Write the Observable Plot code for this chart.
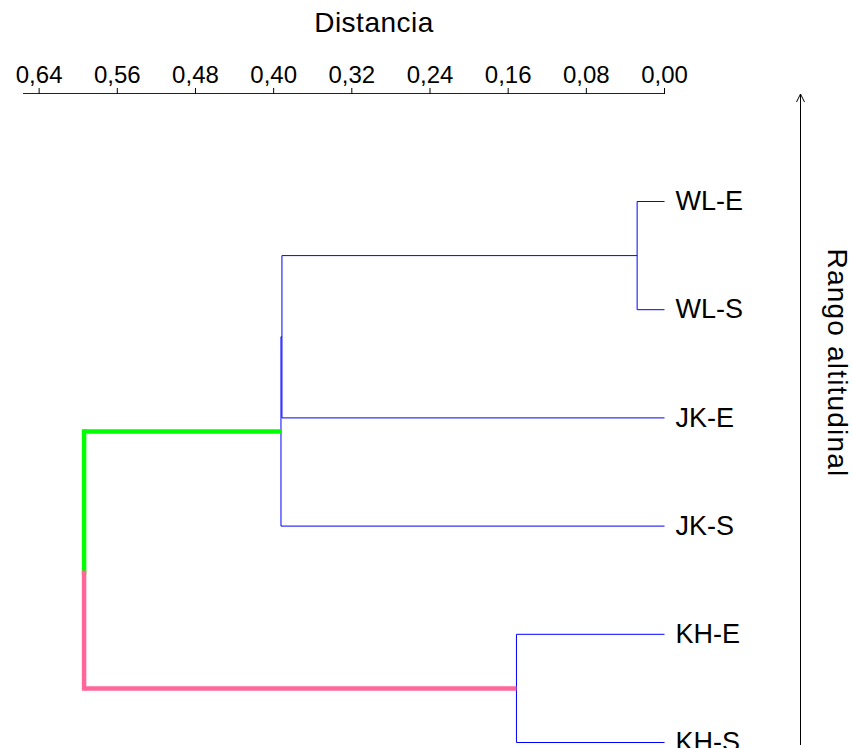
<!DOCTYPE html>
<html>
<head>
<meta charset="utf-8">
<script src="https://cdn.jsdelivr.net/npm/d3@7"></script>
<script src="https://cdn.jsdelivr.net/npm/@observablehq/plot@0.6"></script>
<style>
  body { margin: 0; background: #fff; }
  #chart svg { display: block; }
</style>
</head>
<body>
<div id="chart"></div>
<script>
// Leaves of the dendrogram, listed top to bottom
const leaves = ["WL-E", "WL-S", "JK-E", "JK-S", "KH-E", "KH-S"];

// Agglomeration steps: the two clusters joined and the distance of the join
const joinLeft = ["WL-E", "WL", "WL+JK-E", "KH-E", "WL+JK"];
const joinRight = ["WL-S", "JK-E", "JK-S", "KH-S", "KH"];
const joinName = ["WL", "WL+JK-E", "WL+JK", "KH", "raíz"];
const joinDistance = [0.028, 0.3915, 0.3925, 0.1515, 0.594];

// Distance axis ticks
const distanceTicks = [0.64, 0.56, 0.48, 0.40, 0.32, 0.24, 0.16, 0.08, 0.00];

// Colours of the two top-level groups
const upperColor = "#00ff00";
const lowerColor = "#ff6699";
const branchColor = "#0000ff";

// Node positions: y = leaf order (mean of the children for joins), d = distance
const node = new Map(leaves.map((name, i) => [name, {y: i, d: 0}]));
const parent = new Map();
joinName.forEach((name, i) => {
  const a = node.get(joinLeft[i]), b = node.get(joinRight[i]);
  node.set(name, {y: (a.y + b.y) / 2, d: joinDistance[i]});
  parent.set(joinLeft[i], name);
  parent.set(joinRight[i], name);
});
const rootIdx = joinName.length - 1;
const rootName = joinName[rootIdx];

// Branch segments
const thin = [];
const thickH = [];
const thickV = [];
for (const [name, p] of parent) {
  const c = node.get(name), q = node.get(p);
  const seg = {x1: c.d, x2: q.d, y1: c.y, y2: c.y};
  if (p === rootName) thickH.push({...seg, color: name === joinLeft[rootIdx] ? upperColor : lowerColor});
  else thin.push(seg);
}
joinName.forEach((name, i) => {
  const a = node.get(joinLeft[i]), b = node.get(joinRight[i]), n = node.get(name);
  if (name === rootName) {
    // the root's vertical changes colour a little past its midpoint
    const split = a.y + 0.55 * (b.y - a.y);
    thickV.push({x1: n.d, x2: n.d, y1: a.y, y2: split, color: upperColor});
    thickV.push({x1: n.d, x2: n.d, y1: split, y2: b.y, color: lowerColor});
  } else {
    thin.push({x1: n.d, x2: n.d, y1: a.y, y2: b.y});
  }
});

// Upward arrow along the right side of the frame
function altitudeArrow(index, scales, values, dims) {
  const x = dims.width - 52.5;
  const top = dims.marginTop + 1;
  const g = d3.create("svg:g").attr("stroke", "black").attr("fill", "none").attr("stroke-width", 1);
  g.append("line").attr("x1", x).attr("x2", x).attr("y1", dims.height - 3).attr("y2", top);
  g.append("path").attr("d", `M${x - 4},${top + 8}L${x},${top}L${x + 4},${top + 8}`);
  return g.node();
}

// Render hook that widens the letter spacing of a text mark
const spaced = (px) => (index, scales, values, dims, context, next) => {
  const g = next(index, scales, values, dims, context);
  if (g) g.setAttribute("letter-spacing", px);
  return g;
};

const chart = Plot.plot({
  width: 853,
  height: 748,
  marginTop: 93,
  marginLeft: 23,
  marginRight: 189,
  marginBottom: 0,
  style: {fontFamily: "'Liberation Sans', Arial, sans-serif", fontSize: "24px", color: "black", background: "white"},
  x: {domain: [0.656, 0]},
  y: {domain: [0, leaves.length - 1], range: [201, 742], axis: null},
  color: {type: "identity"},
  marks: [
    Plot.frame({anchor: "top", stroke: "#222"}),
    Plot.axisX({
      anchor: "top",
      ticks: distanceTicks,
      tickSize: 6,
      tickPadding: 5,
      tickFormat: d => d.toFixed(2).replace(".", ","),
      fontSize: 24,
      label: null
    }),
    Plot.text(["Distancia"], {frameAnchor: "top", dx: 30, dy: -62, fontSize: 28, lineAnchor: "bottom", render: spaced(0.5)}),
    Plot.link(thin, {x1: "x1", y1: "y1", x2: "x2", y2: "y2", stroke: branchColor, strokeWidth: 1}),
    Plot.link(thickH, {x1: "x1", y1: "y1", x2: "x2", y2: "y2", stroke: "color", strokeWidth: 4.5, strokeLinecap: "butt"}),
    Plot.link(thickV, {x1: "x1", y1: "y1", x2: "x2", y2: "y2", stroke: "color", strokeWidth: 4.5, strokeLinecap: "square"}),
    Plot.text(leaves, {x: 0, y: (d, i) => i, text: d => d, textAnchor: "start", dx: 11, fontSize: 27, fill: "black"}),
    altitudeArrow,
    Plot.text(["Rango altitudinal"], {frameAnchor: "right", rotate: 90, textAnchor: "middle", lineAnchor: "middle", dx: 172, dy: -58, fontSize: 28, fill: "black", render: spaced(1.2)})
  ]
});

document.getElementById("chart").append(chart);
</script>
</body>
</html>
